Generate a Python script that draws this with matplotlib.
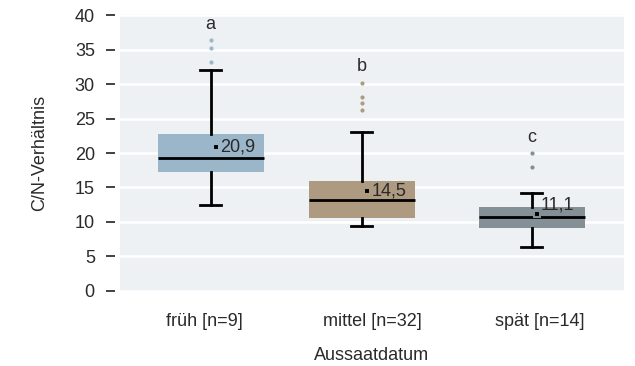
import numpy as np
import matplotlib
matplotlib.use("Agg")
import matplotlib.pyplot as plt

plt.rcParams['font.family'] = ['Liberation Sans', 'DejaVu Sans']

# data
groups = ['früh [n=9]', 'mittel [n=32]', 'spät [n=14]']
q1 = [17.2, 10.6, 9.1]
median = [19.3, 13.2, 10.7]
q3 = [22.8, 16.0, 12.2]
whislo = [12.5, 9.4, 6.4]
whishi = [32.1, 23.0, 14.2]
fliers = [[33.2, 35.2, 36.4], [26.2, 27.2, 28.1, 30.2], [17.9, 20.0]]
means = [20.9, 14.5, 11.1]
letters = ['a', 'b', 'c']

colors = ['#9bb5c9', '#ad9a80', '#858f96']
box_shift = [0.04, -0.06, -0.05]
label_lift = [0, 0, 6.5]
txt = '#2a2a2a'

fig = plt.figure(figsize=(6.35, 3.66), dpi=100)
ax = fig.add_axes([120 / 635, 1 - 292 / 366, 504 / 635, 278 / 366])
ax.set_facecolor('#eef1f4')

pos = np.arange(len(groups)) + np.array(box_shift)
stats = []
for i in range(len(groups)):
    stats.append(dict(med=median[i], q1=q1[i], q3=q3[i],
                      whislo=whislo[i], whishi=whishi[i], fliers=fliers[i]))

bp = ax.bxp(stats, positions=pos, widths=0.63, patch_artist=True,
            capwidths=0.125, showfliers=True, zorder=3,
            boxprops=dict(linewidth=0),
            medianprops=dict(color='black', linewidth=2),
            whiskerprops=dict(color='black', linewidth=2),
            capprops=dict(color='black', linewidth=2))
for i, b in enumerate(bp['boxes']):
    b.set_facecolor(colors[i])
    b.set_edgecolor(colors[i])
for i, f in enumerate(bp['fliers']):
    f.set(marker='o', markersize=3, markerfacecolor=colors[i],
          markeredgecolor='none')

for i in range(len(groups)):
    x = pos[i] + 0.03
    ax.plot(x, means[i], marker='s', markersize=4.5, color='black',
            markeredgecolor=colors[i], markeredgewidth=1.5, zorder=5)
    ax.annotate(f'{means[i]:.1f}'.replace('.', ','), (x, means[i]),
                xytext=(3, label_lift[i]), textcoords='offset points',
                ha='left', va='center', fontsize=13, color=txt, zorder=6)
    ax.text(pos[i], max(fliers[i]) + 2.3, letters[i], ha='center',
            va='center', fontsize=13, color=txt)

ax.set_ylim(-0.15, 40.15)
ax.set_xlim(-0.5, 2.5)
ax.set_yticks(np.arange(0, 41, 5))
ax.set_xticks(np.arange(len(groups)))
ax.set_xticklabels(groups)
ax.yaxis.grid(True, color='white', linewidth=1.8, zorder=0)
ax.set_axisbelow(True)

for s in ax.spines.values():
    s.set_visible(False)
ax.spines['left'].set_position(('outward', 3.6))
ax.tick_params(axis='y', length=6.5, width=1.3, color='#333333', pad=8,
               labelsize=13, labelcolor=txt)
ax.tick_params(axis='x', length=0, pad=15, labelsize=13, labelcolor=txt)

ax.set_ylabel('C/N-Verhältnis', fontsize=13, color=txt, labelpad=19)
ax.set_xlabel('Aussaatdatum', fontsize=13, color=txt, labelpad=12)

fig.savefig('out.png', dpi=100)
